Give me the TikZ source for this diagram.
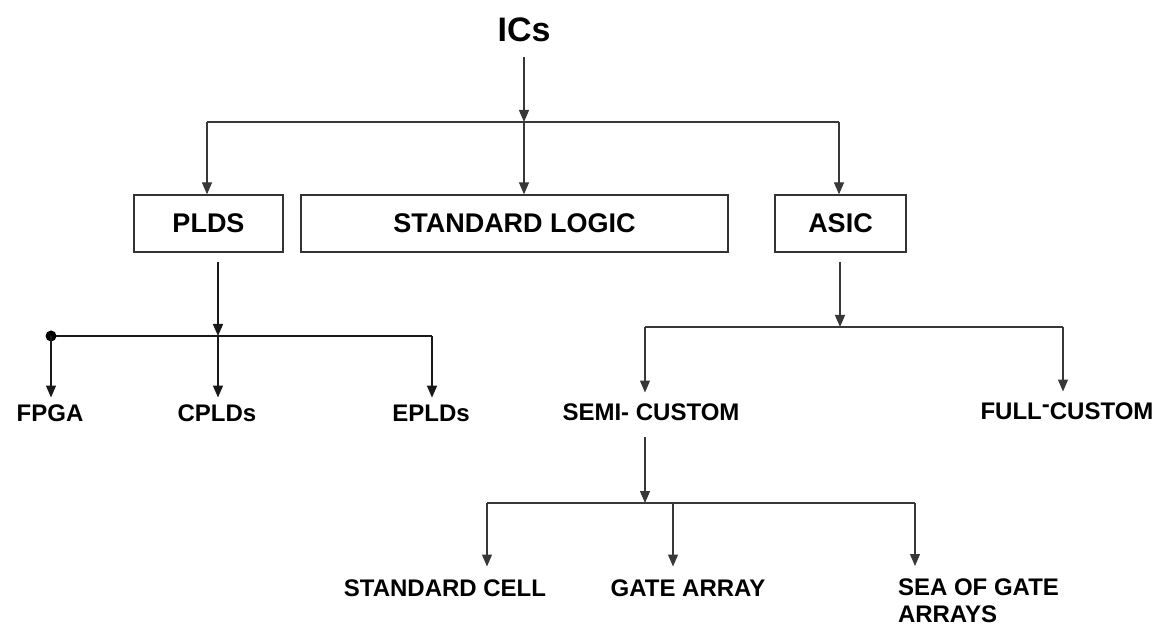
\documentclass[tikz,border=0pt]{standalone}
\usepackage{fontspec}
\setmainfont{Liberation Sans}
\usetikzlibrary{arrows.meta}
\begin{document}
\begin{tikzpicture}[x=1pt,y=-1pt,
  line/.style={draw=black!78, line width=1.2pt},
  arr/.style={line, -{Triangle[length=12pt,width=10pt]}},
  boxnode/.style={draw=black!80, line width=1.3pt, minimum height=57pt, inner sep=0pt,
    font=\fontsize{27}{32}\selectfont\bfseries},
  lbl/.style={inner sep=0pt, outer sep=0pt, font=\fontsize{24}{32}\selectfont\bfseries},
]
\useasboundingbox (0,0) rectangle (1165,628);

% top
\node[inner sep=0pt, font=\fontsize{34}{40}\selectfont\bfseries] (ics) at (524,30) {ICs};
\node[boxnode, minimum width=149pt] (plds) at (208.5,223.5) {PLDS};
\node[boxnode, minimum width=427pt] (std) at (514.5,223.5) {STANDARD LOGIC};
\node[boxnode, minimum width=131pt] (asic) at (840.5,223.5) {ASIC};

\coordinate (t0) at (524,122);
\coordinate (tL) at (207,122);
\coordinate (tR) at (839,122);
\draw[arr, shorten <=15pt] (ics.south -| t0) -- (t0);
\draw[line] (tL) -- (tR);
\draw[arr] (tL) -- (plds.north -| tL);
\draw[arr] (t0) -- (std.north -| t0);
\draw[arr] (tR) -- (asic.north -| tR);

% PLDS branch
\node[lbl] (fpga) at (50,413) {FPGA};
\node[lbl] (cplds) at (217,413) {CPLDs};
\node[lbl] (eplds) at (431,413) {EPLDs};
\coordinate (p0) at (218,336);
\coordinate (pL) at (51,336);
\coordinate (pR) at (432,336);
\draw[arr, draw=black!90, line width=1.4pt, shorten <=9pt] (plds.south -| p0) -- (p0);
\draw[line, draw=black!90, line width=1.6pt] (pL) -- (pR);
\fill[black] (pL) circle (5.5pt);
\draw[arr, draw=black!90, line width=1.4pt, shorten >=7pt] (pL) -- (fpga.north -| pL);
\draw[arr, draw=black!90, line width=1.4pt, shorten >=7pt] (p0) -- (cplds.north -| p0);
\draw[arr, draw=black!90, line width=1.4pt, shorten >=7pt] (pR) -- (eplds.north -| pR);

% ASIC branch
\node[lbl] (semi) at (651,412) {SEMI- CUSTOM};
\node[lbl] (full) at (1067,411) {FULL\raisebox{0.28em}{-}CUSTOM};
\coordinate (a0) at (840,327);
\coordinate (aL) at (645,327);
\coordinate (aR) at (1063,327);
\draw[arr, shorten <=9pt] (asic.south -| a0) -- (a0);
\draw[line] (aL) -- (aR);
\draw[arr, shorten >=11pt] (aL) -- (semi.north -| aL);
\draw[arr, shorten >=11pt] (aR) -- (full.north -| aR);

% semi-custom branch
\node[lbl] (cell) at (445,588) {STANDARD CELL};
\node[lbl] (gate) at (688,588) {GATE ARRAY};
\node[lbl, align=left, anchor=north west, font=\fontsize{24}{27}\selectfont\bfseries] (sea) at (898,579) {SEA OF GATE\\ARRAYS};
\coordinate (b0) at (645,503);
\coordinate (bL) at (487,503);
\coordinate (bM) at (673,503);
\coordinate (bR) at (915,503);
\draw[arr, shorten <=17pt] (semi.south -| b0) -- (b0);
\draw[line] (bL) -- (bR);
\draw[arr, shorten >=13pt] (bL) -- (cell.north -| bL);
\draw[arr, shorten >=13pt] (bM) -- (gate.north -| bM);
\draw[arr, shorten >=13pt] (bR) -- (sea.north -| bR);
\end{tikzpicture}
\end{document}
